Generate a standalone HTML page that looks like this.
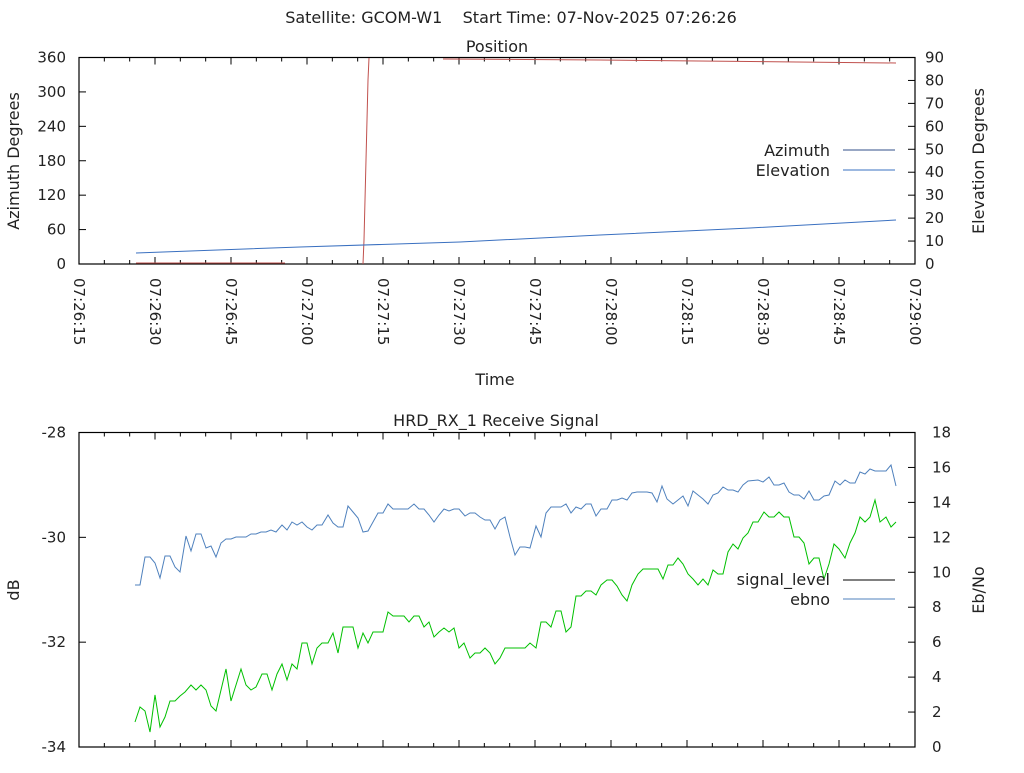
<!DOCTYPE html>
<html><head><meta charset="utf-8"><style>
body{margin:0;background:#fff}
svg text{font-family:"DejaVu Sans","Liberation Sans",sans-serif;font-size:16px;fill:#222}
svg text.tk{font-size:15px}
</style></head><body>
<svg width="1024" height="768" viewBox="0 0 1024 768" xmlns="http://www.w3.org/2000/svg">
<text x="511" y="23" text-anchor="middle" xml:space="preserve">Satellite: GCOM-W1    Start Time: 07-Nov-2025 07:26:26</text>
<text x="497" y="52" text-anchor="middle">Position</text>
<text x="496" y="426" text-anchor="middle">HRD_RX_1 Receive Signal</text>
<text x="495" y="385" text-anchor="middle">Time</text>
<text transform="translate(19,161) rotate(-90)" text-anchor="middle">Azimuth Degrees</text>
<text transform="translate(984,161) rotate(-90)" text-anchor="middle">Elevation Degrees</text>
<text transform="translate(19,590) rotate(-90)" text-anchor="middle">dB</text>
<text transform="translate(984,590) rotate(-90)" text-anchor="middle">Eb/No</text>

<g stroke="#000" stroke-width="1.2" fill="none">
<rect x="79" y="57.5" width="836" height="206.5"/>
<rect x="79" y="432.5" width="836" height="314.5"/>
</g>
<g id="ticks" stroke="#000" stroke-width="1"></g>
<g id="labels"></g>

<polyline fill="none" stroke="#c0504d" stroke-width="1" points="136,263 285,263"/>
<polyline fill="none" stroke="#c0504d" stroke-width="1" points="363,264 364,240 365,200 366,160 367,120 368,80 369,58"/>
<polyline fill="none" stroke="#c0504d" stroke-width="1" points="443,59 600,60 750,61.5 896,63"/>
<polyline fill="none" stroke="#3a70c0" stroke-width="1" points="136,253 300,247 460,242 600,235 750,228 896,220"/>
<text x="830" y="156" text-anchor="end">Azimuth</text>
<line x1="843" y1="150" x2="895" y2="150" stroke="#304f8a"/>
<text x="830" y="176" text-anchor="end">Elevation</text>
<line x1="843" y1="170" x2="895" y2="170" stroke="#3a70c0"/>

<polyline fill="none" stroke="#4f81bd" stroke-width="1" points="135,585 140,585 145,557 150,557 155,563 160,578 165,556 170,556 175,567 180,572 186,536 191,551 196,534 201,534 206,548 211,546 216,557 221,543 226,539 231,539 236,537 246,537 251,534 256,534 261,532 266,532 271,530 276,532 282,525 287,530 292,522 297,525 302,522 307,527 312,530 317,525 322,525 328,515 333,523 338,527 343,527 348,506 353,512 358,518 363,532 368,531 373,522 378,513 383,513 388,504 393,509 408,509 414,504 419,509 424,509 429,515 434,522 439,515 444,509 449,511 454,509 459,509 465,516 470,513 475,513 480,517 485,520 490,520 495,529 500,520 505,517 510,537 515,555 520,547 525,547 530,548 536,526 541,537 546,513 551,507 561,507 566,504 571,513 576,507 581,509 586,504 591,504 596,516 601,509 607,509 612,500 617,500 622,498 627,500 632,493 637,492 647,492 652,493 657,502 662,486 667,499 673,504 678,500 683,496 688,506 693,491 698,495 703,499 708,504 713,495 718,493 723,487 728,490 733,490 738,492 743,485 748,481 758,480 763,482 769,477 774,485 779,485 784,483 789,492 794,495 799,495 804,499 809,491 814,500 819,500 824,496 829,495 835,481 840,485 845,480 850,483 855,483 860,472 865,474 870,469 875,471 886,471 891,465 896,486"/>
<polyline fill="none" stroke="#00c000" stroke-width="1" points="135,722 140,707 145,711 150,732 155,695 160,727 165,717 170,701 175,701 180,696 185,692 191,685 196,690 201,685 206,690 211,706 216,711 221,690 226,669 231,701 236,685 241,669 246,685 251,690 256,687 262,674 267,674 272,690 277,674 282,664 287,680 292,664 297,669 302,643 307,643 312,664 317,648 322,643 328,643 333,633 338,653 343,627 353,627 358,648 363,633 368,643 373,632 383,632 388,612 393,616 404,616 409,622 414,616 419,616 424,627 429,622 434,637 439,632 444,628 449,632 454,628 459,648 464,643 470,658 475,653 480,653 485,648 490,653 495,664 500,658 505,648 525,648 530,643 536,648 541,622 546,622 551,627 556,611 561,611 566,632 571,627 576,596 581,596 586,591 591,591 596,595 601,585 607,580 612,580 617,586 622,595 627,601 632,585 638,574 643,569 658,569 663,579 668,565 673,565 678,558 683,564 688,574 693,579 698,585 703,579 708,585 713,570 718,574 723,574 728,552 733,544 738,549 743,538 748,533 753,522 758,522 764,512 769,517 774,517 779,512 784,517 789,517 794,537 799,537 804,543 809,564 814,558 819,558 824,579 829,564 834,544 839,549 845,558 850,543 855,533 860,517 865,522 870,517 875,500 880,522 886,517 891,527 896,522"/>
<text x="830" y="585" text-anchor="end">signal_level</text>
<line x1="843" y1="580" x2="895" y2="580" stroke="#000"/>
<text x="830" y="605" text-anchor="end">ebno</text>
<line x1="843" y1="599" x2="895" y2="599" stroke="#4f81bd"/>
</svg>
<script>
(function(){
var NS="http://www.w3.org/2000/svg",t=document.getElementById("ticks"),l=document.getElementById("labels");
function ln(a,b,c,d){var e=document.createElementNS(NS,"line");e.setAttribute("x1",a);e.setAttribute("y1",b);e.setAttribute("x2",c);e.setAttribute("y2",d);t.appendChild(e);}
function tx(x,y,s,anc,tr){var e=document.createElementNS(NS,"text");e.setAttribute("class","tk");e.setAttribute("x",x);e.setAttribute("y",y);e.setAttribute("text-anchor",anc);if(tr)e.setAttribute("transform",tr);e.textContent=s;l.appendChild(e);}
var x0=79,step=76;
var tl=["07:26:15","07:26:30","07:26:45","07:27:00","07:27:15","07:27:30","07:27:45","07:28:00","07:28:15","07:28:30","07:28:45","07:29:00"];
for(var i=0;i<=33;i++){var x=x0+i*step/3;var maj=i%3==0;var h=maj?7:4;
 ln(x,264,x,264-h);ln(x,57.5,x,57.5+h);ln(x,747,x,747-h);ln(x,432.5,x,432.5+h);}
for(i=0;i<12;i++){var x=x0+i*step;tx(x-5,278,tl[i],"start","rotate(90 "+(x-5)+" 278)");}
for(i=0;i<=6;i++){var y=264-i*206.5/6;ln(79,y,86,y);tx(66,y+5,String(i*60),"end");}
for(i=0;i<=9;i++){var y=264-i*206.5/9;ln(915,y,908,y);tx(925,y+5,String(i*10),"start");}
var bl=["-34","-32","-30","-28"];
for(i=0;i<=3;i++){var y=747-i*314.5/3;ln(79,y,86,y);tx(66,y+5,bl[i],"end");}
for(i=0;i<=9;i++){var y=747-i*314.5/9;ln(915,y,908,y);tx(932,y+5,String(i*2),"start");}
})();
</script>
</body></html>
